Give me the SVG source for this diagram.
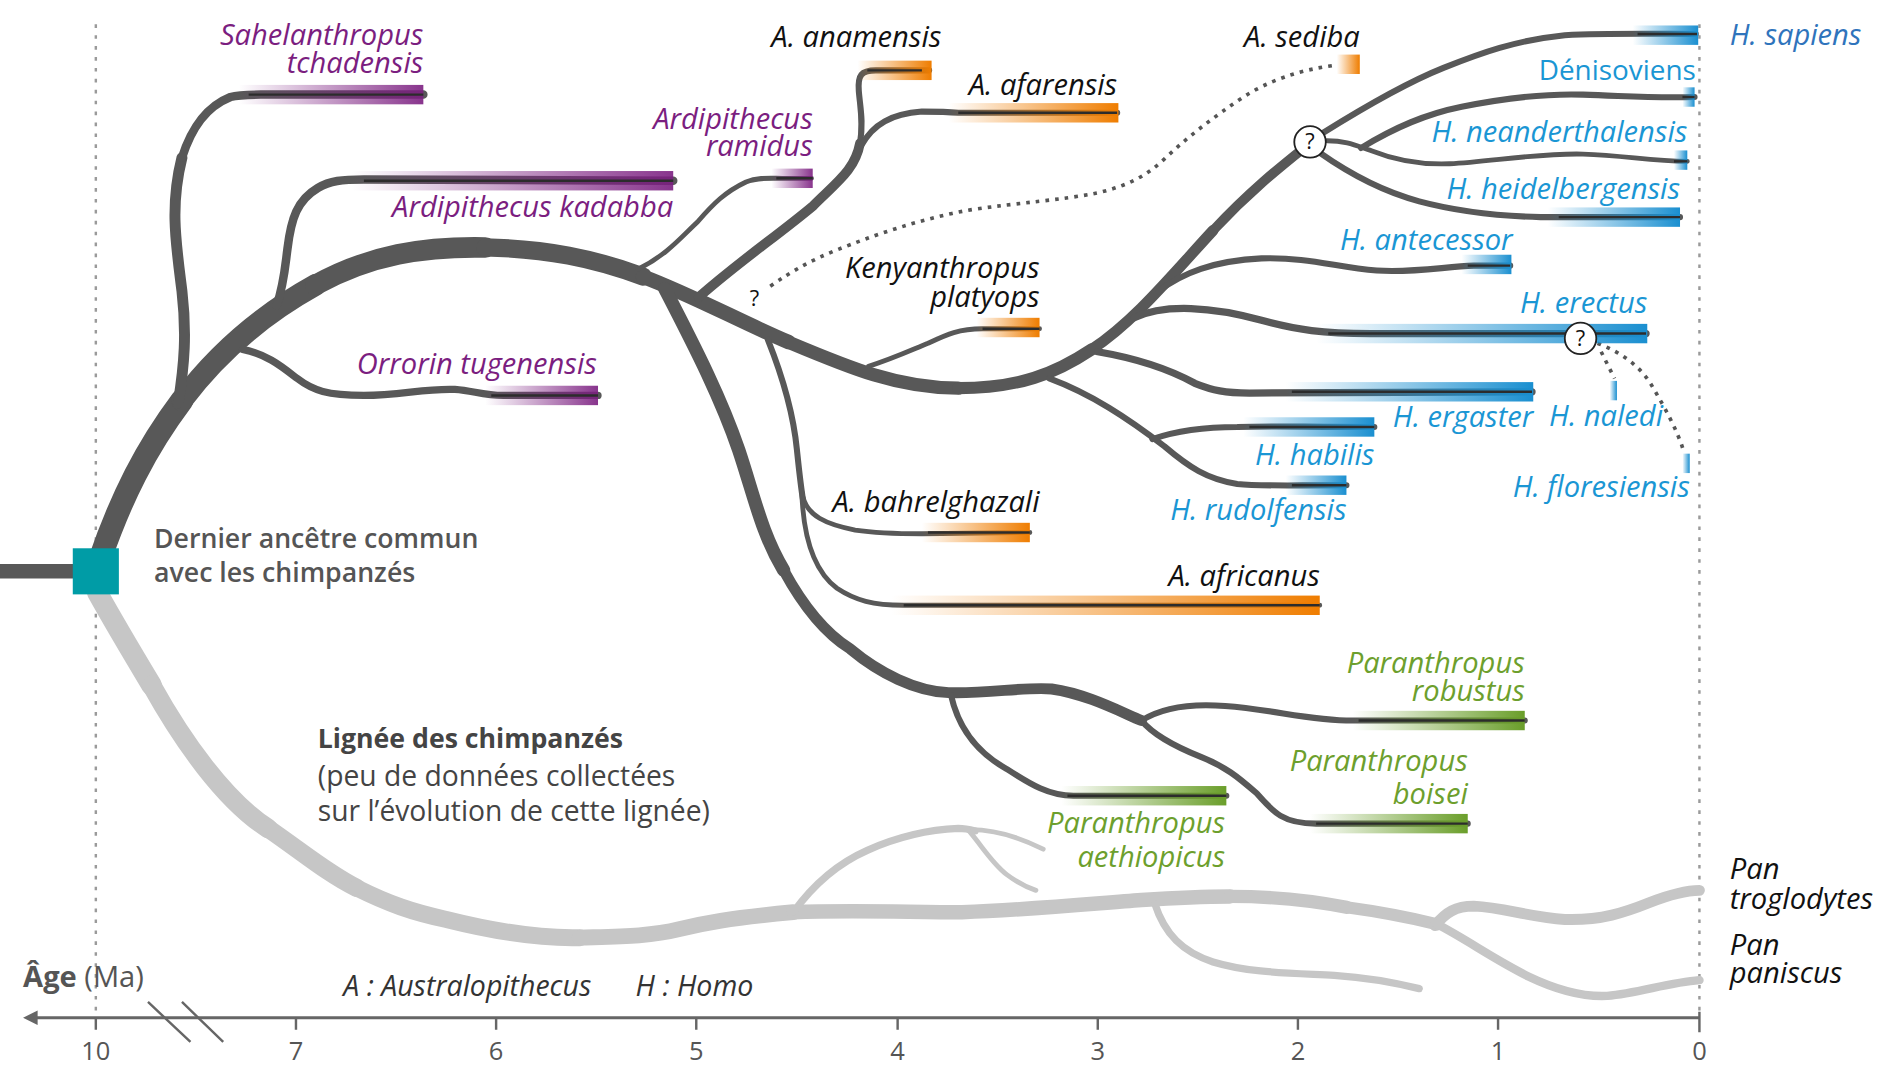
<svg xmlns="http://www.w3.org/2000/svg" width="1902" height="1076" viewBox="0 0 1902 1076">
<style>
.br{fill:none;stroke:#585858;stroke-linecap:round;stroke-linejoin:round}
.in{fill:none;stroke:#2c2c2c;stroke-width:2}
.ch{fill:none;stroke:#c6c6c6;stroke-linecap:round;stroke-linejoin:round}
.dot{fill:none;stroke:#555;stroke-width:3;stroke-dasharray:3 5}
.vd{fill:none;stroke:#9a9a9a;stroke-width:2;stroke-dasharray:3 6}
text{font-family:"Open Sans","Noto Sans",sans-serif}
.sp{font-style:italic;font-size:24px}
.r{text-anchor:end}
.pu{fill:#7b1e80}.ok{fill:#111}.bl{fill:#1a96d4}.gr{fill:#6d9f2d}
.ax{font-size:21px;fill:#555;text-anchor:middle}
.q{font-size:18px;fill:#111;text-anchor:middle}
.qc{fill:#fff;stroke:#222;stroke-width:1.5}
</style>
<defs>
<linearGradient id="gP"><stop offset="0" stop-color="#7b1e80" stop-opacity="0"/><stop offset="1" stop-color="#7b1e80" stop-opacity="0.9"/></linearGradient>
<linearGradient id="gO"><stop offset="0" stop-color="#ef7d00" stop-opacity="0"/><stop offset="1" stop-color="#ef7d00"/></linearGradient>
<linearGradient id="gB"><stop offset="0" stop-color="#1a8fd0" stop-opacity="0"/><stop offset="1" stop-color="#1a8fd0"/></linearGradient>
<linearGradient id="gG"><stop offset="0" stop-color="#6a9e2a" stop-opacity="0"/><stop offset="1" stop-color="#6a9e2a"/></linearGradient>
</defs>
<rect width="1902" height="1076" fill="#fff"/>
<g transform="scale(1.21301)">
<g id="axis">
<path class="vd" d="M79,20 V838"/>
<path class="vd" d="M1401,20 V838"/>
<path d="M28,839 H1401" stroke="#666" stroke-width="2.5" fill="none"/>
<path d="M19,839 L31,833 L31,845 Z" fill="#666"/>
<path d="M122,826 L157,859 M150,826 L184,859" stroke="#666" stroke-width="2" fill="none"/>
<path d="M79,839 V849 M244,839 V849 M409,839 V849 M574,839 V849 M740,839 V849 M905,839 V849 M1070,839 V849 M1235,839 V849 M1401,834 V851" stroke="#666" stroke-width="2" fill="none"/>
<text class="ax" x="79" y="874">10</text>
<text class="ax" x="244" y="874">7</text>
<text class="ax" x="409" y="874">6</text>
<text class="ax" x="574" y="874">5</text>
<text class="ax" x="740" y="874">4</text>
<text class="ax" x="905" y="874">3</text>
<text class="ax" x="1070" y="874">2</text>
<text class="ax" x="1235" y="874">1</text>
<text class="ax" x="1401" y="874">0</text>
<text x="19" y="814" style="font-size:24px;fill:#555"><tspan font-weight="700">Âge</tspan> (Ma)</text>
<text x="283" y="821" style="font-size:23.5px;fill:#333;font-style:italic">A : Australopithecus</text>
<text x="524" y="821" style="font-size:23.5px;fill:#333;font-style:italic">H : Homo</text>
</g>
<g id="connectors">
<!-- chimp lineage -->
<path class="ch" stroke-width="17" d="M80,488 C95,515 110,540 125,565"/>
<path class="ch" stroke-width="16" d="M125,565 C150,610 185,660 221,683"/>
<path class="ch" stroke-width="15" d="M221,683 C250,703 270,720 294,732"/>
<path class="ch" stroke-width="14" d="M294,732 C320,745 340,752 368,758 C400,766 440,774 478,773"/>
<path class="ch" stroke-width="13" d="M478,773 C510,772 536,772 560,766 C580,761 600,757 654,752"/>
<path class="ch" stroke-width="12" d="M654,752 C700,750 750,752 793,752 C850,750 900,745 941,742 C970,740 990,739 1014,739"/>
<path class="ch" stroke-width="11" d="M1014,739 C1050,739 1080,742 1110,748"/>
<path class="ch" stroke-width="10" d="M1110,748 C1140,752 1160,756 1185,762"/>
<path class="ch" stroke-width="9" d="M1183,763 C1192,752 1200,747 1215,747 C1240,748 1260,756 1290,758 C1320,759 1340,752 1360,744 C1378,737 1390,734 1401,734"/>
<path class="ch" stroke-width="7" d="M1183,761 C1210,775 1230,790 1260,805 C1285,817 1305,822 1325,821 C1350,819 1375,810 1401,808"/>
<path class="ch" stroke-width="6" d="M952,745 C960,770 975,785 1000,793 C1030,802 1060,802 1100,804 C1130,806 1150,810 1170,815"/>
<path class="ch" stroke-width="6" d="M654,752 C670,730 690,712 715,701 C740,690 765,684 790,683 C796,683 800,684 804,685"/>
<path class="ch" stroke-width="4" d="M800,684 C820,684 840,690 860,700"/>
<path class="ch" stroke-width="4" d="M798,684 C810,698 818,712 830,721 C838,727 845,731 854,734"/>
<!-- trunk -->
<path class="br" stroke-width="19" d="M82,462 C100,410 120,370 150,330"/>
<path class="br" stroke-width="18" d="M150,330 C180,290 215,260 260,235"/>
<path class="br" stroke-width="17" d="M260,235 C305,210 350,203 400,204"/>
<path class="br" stroke-width="15" d="M400,204 C450,205 490,213 530,228"/>
<path class="br" stroke-width="12" d="M530,228 C570,243 610,265 650,282"/>
<path class="br" stroke-width="11" d="M650,282 C700,303 740,320 790,320"/>
<path class="br" stroke-width="10" d="M790,320 C840,320 870,308 900,288"/>
<path class="br" stroke-width="9" d="M900,288 C935,265 965,228 1000,190"/>
<path class="br" stroke-width="8" d="M1000,190 C1030,158 1055,138 1075,122"/>
<!-- early branches -->
<path class="br" stroke-width="9" d="M147,332 C152,300 154,275 150,240 C145,200 140,170 150,130"/>
<path class="br" stroke-width="7" d="M150,130 C158,105 170,88 190,80 C197,78 205,78 215,78 L349,78"/>
<path class="br" stroke-width="7" d="M228,252 C234,235 235,220 237,205 C240,180 245,165 262,155 C272,149 282,148 300,148 L555,149"/>
<path class="br" stroke-width="6" d="M200,288 C220,292 232,302 245,312 C258,322 270,326 300,326 C330,326 350,320 375,321 C390,322 398,326 415,326 L493,326"/>
<path class="br" stroke-width="4" d="M526,222 C550,210 562,195 575,183 C588,168 598,158 615,150 C625,146 635,147 645,147 L669,147"/>
<!-- Australopithecus -->
<path class="br" stroke-width="8" d="M576,245 C610,215 640,195 670,170 C690,150 705,140 709,118"/>
<path class="br" stroke-width="5" d="M709,118 C712,100 709,88 708,75 C707,62 710,58 722,58 L766,58"/>
<path class="br" stroke-width="5" d="M710,120 C720,102 735,94 760,92 C770,92 780,92 790,93 L921,93"/>
<path class="br" stroke-width="4" d="M716,302 C735,296 748,290 765,283 C780,276 790,271 810,271 L857,271"/>
<path class="br" stroke-width="5" d="M633,280 C645,310 654,340 657,371 C659,390 660,400 662,412"/>
<path class="br" stroke-width="4" d="M662,410 C666,425 680,432 705,437 C725,440 745,440 760,440 L849,439"/>
<path class="br" stroke-width="4" d="M661,405 C662,440 670,470 690,485 C705,495 720,499 745,499 L1088,499"/>
<!-- Paranthropus -->
<path class="br" stroke-width="11" d="M548,238 C575,290 595,330 609,371 C622,410 628,440 646,470"/>
<path class="br" stroke-width="9" d="M646,470 C665,505 685,525 701,535 C725,555 755,570 782,571 C815,572 845,566 867,568 C895,572 920,585 941,594"/>
<path class="br" stroke-width="5" d="M784,573 C790,600 805,620 830,634 C850,647 865,656 885,656 L1011,656"/>
<path class="br" stroke-width="5" d="M941,594 C950,605 965,614 990,624 C1010,632 1020,640 1036,654 C1050,670 1058,679 1085,679 L1210,679"/>
<path class="br" stroke-width="5" d="M941,594 C960,582 985,580 1010,582 C1050,585 1080,594 1115,594 L1257,594"/>
<!-- Homo -->
<path class="br" stroke-width="5" d="M865,312 C900,325 930,345 960,368 C980,385 995,395 1020,399 C1040,401 1060,400 1110,400"/>
<path class="br" stroke-width="5" d="M950,362 C970,355 990,352 1020,352 C1050,351 1070,352 1133,352"/>
<path class="br" stroke-width="6" d="M905,290 C940,296 965,305 985,316 C1000,322 1010,324 1030,324 L1263,323"/>
<path class="br" stroke-width="6" d="M935,262 C960,250 1000,253 1040,264 C1070,272 1090,275 1130,275 L1357,275"/>
<path class="br" stroke-width="5" d="M955,240 C975,225 1000,215 1040,213 C1080,212 1100,220 1135,223 C1165,225 1190,220 1215,219 L1245,219"/>
<path class="br" stroke-width="5" d="M1088,126 C1115,145 1140,158 1170,166 C1200,174 1230,178 1270,179 L1385,179"/>
<path class="br" stroke-width="4" d="M1094,116 C1110,116 1118,120 1130,124 C1150,132 1170,136 1195,135 C1230,133 1270,126 1305,127 C1340,128 1360,133 1391,133"/>
<path class="br" stroke-width="5" d="M1122,122 C1150,105 1175,94 1205,88 C1240,81 1275,77 1305,78 C1340,79 1360,81 1397,80"/>
<path class="br" stroke-width="5" d="M1090,110 C1130,85 1160,68 1190,56 C1220,44 1250,33 1290,29 C1330,27 1370,28 1398,28"/>
<!-- dotted -->
<path class="dot" d="M635,236 C655,222 670,214 690,206 C720,194 760,180 800,173 C840,167 875,165 905,159 C930,153 945,145 960,131 C980,112 1000,97 1025,80 C1045,67 1070,58 1099,54"/>
<path class="dot" d="M1320,290 L1331,312"/>
<path class="dot" d="M1317,283 C1335,290 1350,300 1360,315 C1372,335 1383,355 1388,372"/>
</g>
<g id="lca">
<path d="M0,471 H70" stroke="#585858" stroke-width="12" fill="none"/>
<rect x="60" y="452" width="38" height="38" fill="#009ca6"/>
<text x="127" y="452" style="font-size:22px;font-weight:600;fill:#555">Dernier ancêtre commun</text>
<text x="127" y="480" style="font-size:22px;font-weight:600;fill:#555">avec les chimpanzés</text>
</g>
<g id="chimp-label">
<text x="262" y="617" style="font-size:22px;font-weight:700;fill:#444">Lignée des chimpanzés</text>
<text x="262" y="648" style="font-size:23.3px;fill:#444">(peu de données collectées</text>
<text x="262" y="677" style="font-size:23.3px;fill:#444">sur l’évolution de cette lignée)</text>
</g>
<g id="sahelanthropus"><rect x="197" y="70" width="152" height="16" fill="url(#gP)"/><path class="in" d="M205,78 H349"/><text class="sp r pu" x="349" y="37">Sahelanthropus</text><text class="sp r pu" x="349" y="60">tchadensis</text></g>
<g id="kadabba"><rect x="290" y="141" width="265" height="16" fill="url(#gP)"/><path class="in" d="M300,149 H555"/><text class="sp r pu" x="555" y="179">Ardipithecus kadabba</text></g>
<g id="ramidus"><rect x="636" y="139" width="34" height="16" fill="url(#gP)"/><path class="in" d="M640,147 H670"/><text class="sp r pu" x="670" y="106">Ardipithecus</text><text class="sp r pu" x="670" y="129">ramidus</text></g>
<g id="orrorin"><rect x="400" y="318" width="93" height="16" fill="url(#gP)"/><path class="in" d="M405,326 H493"/><text class="sp r pu" x="492" y="308">Orrorin tugenensis</text></g>
<g id="anamensis"><rect x="707" y="50" width="61" height="16" fill="url(#gO)"/><path class="in" d="M715,58 H760"/><text class="sp r ok" x="776" y="39">A. anamensis</text></g>
<g id="afarensis"><rect x="782" y="85" width="140" height="16" fill="url(#gO)"/><path class="in" d="M790,93 H921"/><text class="sp r ok" x="921" y="78">A. afarensis</text></g>
<g id="sediba"><rect x="1102" y="45" width="19" height="16" fill="url(#gO)"/><text class="sp r ok" x="1121" y="39">A. sediba</text></g>
<g id="kenyanthropus"><rect x="805" y="262" width="52" height="16" fill="url(#gO)"/><path class="in" d="M810,271 H857"/><text class="sp r ok" x="857" y="229">Kenyanthropus</text><text class="sp r ok" x="857" y="253">platyops</text></g>
<g id="bahrelghazali"><rect x="760" y="431" width="89" height="16" fill="url(#gO)"/><path class="in" d="M765,439 H849"/><text class="sp r ok" x="857" y="422">A. bahrelghazali</text></g>
<g id="africanus"><rect x="735" y="491" width="353" height="16" fill="url(#gO)"/><path class="in" d="M745,499 H1088"/><text class="sp r ok" x="1088" y="483">A. africanus</text></g>
<g id="sapiens"><rect x="1346" y="21" width="54" height="16" fill="url(#gB)"/><path class="in" d="M1350,28 H1399"/><text class="sp" x="1426" y="37" style="fill:#2f74bc">H. sapiens</text></g>
<g id="denisoviens"><rect x="1387" y="72" width="10" height="16" fill="url(#gB)"/><path class="in" d="M1387,80 H1397"/><text class="r bl" x="1398" y="66" style="font-size:23px">Dénisoviens</text></g>
<g id="neanderthalensis"><rect x="1380" y="124" width="11" height="16" fill="url(#gB)"/><path class="in" d="M1380,133 H1391"/><text class="sp r bl" x="1391" y="117">H. neanderthalensis</text></g>
<g id="heidelbergensis"><rect x="1276" y="171" width="109" height="16" fill="url(#gB)"/><path class="in" d="M1285,179 H1385"/><text class="sp r bl" x="1385" y="164">H. heidelbergensis</text></g>
<g id="antecessor"><rect x="1205" y="210" width="41" height="16" fill="url(#gB)"/><path class="in" d="M1210,219 H1245"/><text class="sp r bl" x="1247" y="206">H. antecessor</text></g>
<g id="erectus"><rect x="1085" y="267" width="273" height="16" fill="url(#gB)"/><path class="in" d="M1095,275 H1357"/><text class="sp r bl" x="1358" y="258">H. erectus</text><circle class="qc" cx="1303" cy="279" r="13"/><text class="q" x="1303" y="285">?</text></g>
<g id="ergaster"><rect x="1060" y="315" width="204" height="16" fill="url(#gB)"/><path class="in" d="M1065,323 H1263"/><text class="sp r bl" x="1264" y="352">H. ergaster</text></g>
<g id="naledi"><rect x="1327" y="314" width="6" height="16" fill="url(#gB)"/><text class="sp r bl" x="1371" y="351">H. naledi</text></g>
<g id="floresiensis"><rect x="1387" y="374" width="6" height="16" fill="url(#gB)"/><text class="sp r bl" x="1393" y="410">H. floresiensis</text></g>
<g id="habilis"><rect x="1025" y="344" width="108" height="16" fill="url(#gB)"/><path class="in" d="M1030,352 H1133"/><text class="sp r bl" x="1133" y="383">H. habilis</text></g>
<g id="rudolfensis"><rect x="1060" y="392" width="50" height="16" fill="url(#gB)"/><path class="in" d="M1065,400 H1110"/><text class="sp r bl" x="1110" y="429">H. rudolfensis</text></g>
<g id="robustus"><rect x="1115" y="586" width="142" height="16" fill="url(#gG)"/><path class="in" d="M1120,594 H1257"/><text class="sp r gr" x="1257" y="555">Paranthropus</text><text class="sp r gr" x="1257" y="578">robustus</text></g>
<g id="boisei"><rect x="1080" y="671" width="130" height="16" fill="url(#gG)"/><path class="in" d="M1085,679 H1210"/><text class="sp r gr" x="1210" y="636">Paranthropus</text><text class="sp r gr" x="1210" y="663">boisei</text></g>
<g id="aethiopicus"><rect x="875" y="648" width="136" height="16" fill="url(#gG)"/><path class="in" d="M880,656 H1011"/><text class="sp r gr" x="1010" y="687">Paranthropus</text><text class="sp r gr" x="1010" y="715">aethiopicus</text></g>
<g id="homo-node"><circle class="qc" cx="1080" cy="117" r="13"/><text class="q" x="1080" y="123">?</text></g>
<g id="q-sediba"><text class="q" x="622" y="252">?</text></g>
<g id="pan-troglodytes"><text class="sp ok" x="1426" y="725">Pan</text><text class="sp ok" x="1426" y="749">troglodytes</text></g>
<g id="pan-paniscus"><text class="sp ok" x="1426" y="787">Pan</text><text class="sp ok" x="1426" y="810">paniscus</text></g>
</g>
</svg>
